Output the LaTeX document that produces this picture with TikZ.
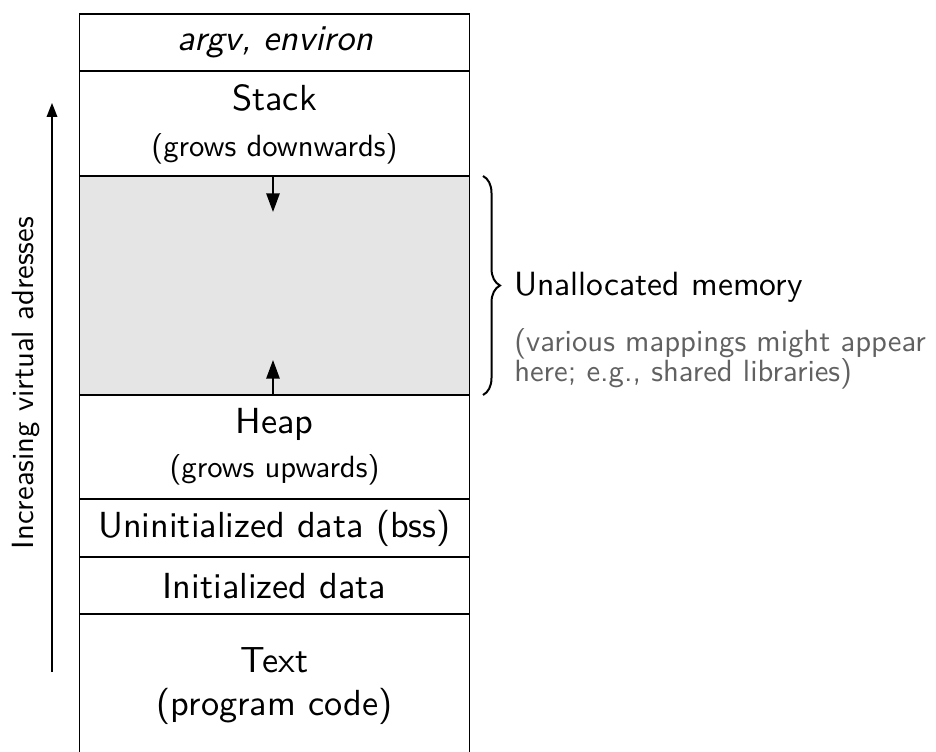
\documentclass[tikz,border=0pt]{standalone}
\usepackage{fontspec}
\newfontfamily\lmsten{lmsans10-regular.otf}[ItalicFont=lmsans10-oblique.otf]
\usetikzlibrary{arrows.meta,decorations.pathreplacing}
\newcommand\MemBig{\fontsize{27.2}{30}\selectfont\lmsten}
\newcommand\MemUn{\fontsize{25.2}{30}\selectfont\lmsten}
\newcommand\MemSmall{\fontsize{23}{27}\selectfont\lmsten}
\newcommand\MemNote{\fontsize{23}{27}\selectfont\lmsten}
\newcommand\MemSide{\fontsize{23}{28}\selectfont\lmsten}
\begin{document}
\begin{tikzpicture}[x=0.75pt,y=-0.75pt,
  seg/.style={draw=black, line width=1.1pt, rectangle, minimum width=292.5pt, inner sep=0pt},
  lbl/.style={anchor=base, inner sep=0pt, font=\MemBig},
  sublbl/.style={anchor=base, inner sep=0pt, font=\MemSmall},
  note/.style={anchor=base west, inner sep=0pt, font=\MemNote, text=black!62},
  growarrow/.style={line width=1.3pt, -{Triangle[length=14pt,width=10pt]}},
  sidearrow/.style={line width=1.1pt, -{Triangle[length=10.5pt,width=8pt]}},
  bracestyle/.style={line width=1.5pt, decorate, decoration={brace, amplitude=12.75pt}}
]
\useasboundingbox (0,0) rectangle (936,752);

% memory segments
\node[seg, minimum height=42.75pt] (argv) at (274.5,42.5) {};
\node[seg, minimum height=78.75pt] (stack) at (274.5,123.5) {};
\node[seg, minimum height=164.25pt, fill=black!10] (free) at (274.5,285.5) {};
\node[seg, minimum height=78pt] (heap) at (274.5,447) {};
\node[seg, minimum height=43.5pt] (bss) at (274.5,528) {};
\node[seg, minimum height=42.75pt] (init) at (274.5,585.5) {};
\node[seg, minimum height=109.5pt] (text) at (274.5,687) {};

% labels
\node[lbl, font=\MemBig\itshape] (largv) at (275.5,51) {argv, environ};
\node[lbl] (lstack) at (274.5,111) {Stack};
\node[sublbl] (lstack2) at (274.5,157) {(grows downwards)};
\node[lbl] (lheap) at (274.5,433) {Heap};
\node[sublbl] (lheap2) at (274.5,477) {(grows upwards)};
\node[lbl] (lbss) at (274.5,537) {Uninitialized data (bss)};
\node[lbl] (linit) at (274.5,598) {Initialized data};
\node[lbl] (ltext) at (274.5,672) {Text};
\node[lbl] (ltext2) at (274.5,715) {(program code)};

% growth arrows
\coordinate (dtip) at (273,212);
\coordinate (utip) at (273,360);
\coordinate (dstart) at (273,176);
\coordinate (ustart) at (273,395);
\draw[growarrow] (dstart) -- (dtip);
\draw[growarrow] (ustart) -- (utip);

% brace and its notes
\coordinate (bt) at (483,176);
\coordinate (bb) at (483,395);
\draw[bracestyle] (bt) -- (bb);
\node[anchor=base west, inner sep=0pt, font=\MemUn] (unalloc) at (514,296) {Unallocated memory};
\node[note] (note1) at (514,352) {(various mappings might appear};
\node[note] (note2) at (514,382) {here; e.g., shared libraries)};

% address direction
\coordinate (abot) at (52,672);
\coordinate (atop) at (52,103);
\draw[sidearrow] (abot) -- (atop);
\node[anchor=base, inner sep=0pt, rotate=90, font=\MemSide] (addr) at (33,383) {Increasing virtual adresses};
\end{tikzpicture}
\end{document}
